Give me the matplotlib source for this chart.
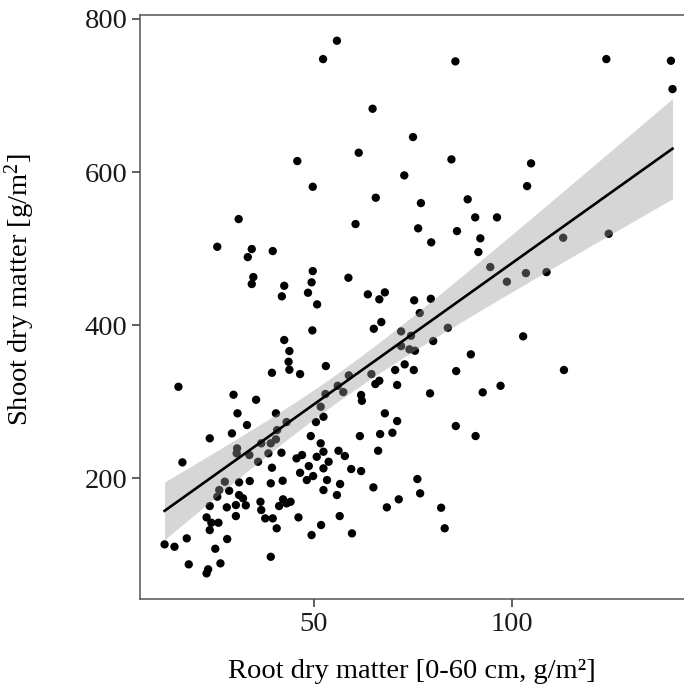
import numpy as np
import matplotlib
matplotlib.use("Agg")
import matplotlib.pyplot as plt

# root dry matter (0-60 cm, g/m2) vs shoot dry matter (g/m2)
root = [
    55.8, 52.3, 85.7, 123.8, 140.1, 140.5, 64.8, 75.0, 61.3, 45.8, 84.7, 104.8,
    72.8, 49.7, 103.8, 65.6, 77.0, 88.8,
    31.0, 25.6, 34.3, 39.6, 33.3, 49.7, 34.7, 34.3, 49.4, 42.5, 48.5, 41.9,
    50.8, 49.6, 42.5, 43.8, 43.6, 43.8, 39.4, 46.5, 15.8, 29.7, 35.4,
    60.5, 76.3, 86.1, 90.7, 96.2, 79.6, 92.0, 91.5, 94.5, 58.7, 63.6, 67.9,
    66.5, 75.3, 79.5, 76.7, 67.0, 65.1, 72.0, 83.8, 74.5, 80.1, 72.0, 74.1,
    75.5, 89.6, 72.9, 53.0, 70.5, 75.2, 85.9, 58.8, 64.5, 66.5, 65.5, 56.0,
    71.0, 97.1, 57.4, 61.9, 62.1, 79.3, 92.6, 52.9, 51.7,
    112.9, 124.4, 103.5, 108.7, 98.7, 102.8, 113.1,
    30.7, 40.4, 33.1, 43.1, 50.5, 23.7, 29.3, 40.7, 40.4, 49.2, 51.7, 16.8,
    30.6, 30.5, 33.7, 36.7, 39.1, 38.5, 35.9, 41.8, 45.6, 47.0, 50.7, 39.4,
    46.5, 48.7, 48.2, 49.8, 27.5, 26.1, 28.6, 31.1, 33.8, 39.1, 42.1, 25.6,
    23.7, 28.0, 31.1, 32.1, 30.3, 32.8, 36.5, 36.7, 37.7, 39.6, 42.2, 43.1,
    41.2, 44.1, 22.9, 24.1, 25.9, 23.7, 30.3, 40.6, 46.1, 49.4, 12.3, 14.8,
    17.9, 28.1, 25.1, 39.1, 18.4, 26.4, 23.3, 22.9,
    67.9, 71.0, 85.8, 90.8, 61.6, 66.7, 69.8, 52.4, 52.4, 56.2, 57.8, 66.2,
    53.7, 52.4, 59.4, 61.9, 53.3, 56.6, 52.4, 55.8, 65.0, 76.1, 76.8, 71.4,
    68.4, 82.1, 83.0, 56.5, 59.6, 51.8,
]
shoot = [
    771.6, 747.6, 744.6, 747.6, 745.4, 708.4, 682.7, 645.7, 625.2, 614.3, 616.5, 611.3,
    595.6, 580.7, 581.6, 566.4, 559.4, 564.3,
    538.5, 502.3, 499.3, 496.7, 488.8, 470.5, 462.7, 453.6, 455.8, 451.3, 442.2, 437.5,
    427.0, 393.0, 380.4, 366.0, 352.0, 341.6, 337.6, 335.9, 319.3, 308.9, 302.3,
    532.0, 526.4, 522.8, 540.7, 540.7, 508.1, 513.3, 495.4, 475.8, 461.8, 440.1, 442.7,
    433.6, 432.3, 434.3, 415.7, 403.9, 395.1, 391.7, 396.4, 386.0, 379.1, 372.5, 368.2,
    366.4, 361.7, 348.6, 346.4, 341.2, 341.2, 339.8, 334.2, 335.9, 327.2, 322.9, 320.6,
    321.6, 320.6, 312.4, 308.5, 301.0, 310.7, 312.0, 309.8, 293.2,
    514.1, 519.3, 467.9, 469.2, 456.6, 385.2, 341.2,
    284.6, 284.6, 269.3, 273.2, 273.2, 251.9, 258.4, 262.7, 250.6, 254.9, 245.4, 220.5,
    238.8, 232.3, 230.1, 245.4, 245.4, 232.3, 221.3, 233.1, 225.7, 230.1, 227.8, 213.5,
    206.9, 215.7, 197.4, 202.6, 195.2, 184.3, 183.4, 194.4, 196.1, 193.1, 196.5, 175.6,
    163.4, 161.7, 177.8, 173.5, 164.7, 164.3, 169.0, 158.2, 147.3, 147.3, 172.2, 166.9,
    163.4, 169.0, 148.6, 141.6, 141.6, 132.0, 150.3, 134.3, 148.6, 125.5, 113.3, 110.2,
    121.2, 120.3, 107.6, 97.1, 87.2, 88.5, 80.7, 75.4,
    284.6, 274.5, 268.0, 254.9, 254.9, 257.5, 259.2, 280.1, 234.4, 235.7, 228.8, 235.7,
    221.3, 212.7, 211.8, 209.1, 197.4, 192.2, 184.3, 177.8, 187.8, 198.7, 180.0, 172.2,
    161.7, 161.2, 134.3, 150.3, 127.7, 138.6,
]
x_ticks = [50, 100]
y_ticks = [200, 400, 600, 800]

x = np.array(root)
y = np.array(shoot)

# linear fit with 95% confidence band (like geom_smooth(method="lm"))
n = len(x)
slope, intercept = np.polyfit(x, y, 1)
resid = y - (slope * x + intercept)
s = np.sqrt(np.sum(resid ** 2) / (n - 2))
sxx = np.sum((x - x.mean()) ** 2)
xs = np.linspace(x.min(), x.max(), 200)
fit = slope * xs + intercept
t975 = 1.9729  # qt(0.975, ~190)
half = t975 * s * np.sqrt(1.0 / n + (xs - x.mean()) ** 2 / sxx)

plt.rcParams["font.family"] = ["Liberation Serif", "DejaVu Serif"]
plt.rcParams["mathtext.fontset"] = "custom"
plt.rcParams["mathtext.rm"] = "Liberation Serif"

fig = plt.figure(figsize=(6.84, 6.89), dpi=100)
ax = fig.add_axes([0.2047, 0.1306, 0.7953, 0.8476])

ax.scatter(x, y, s=36, color="black", edgecolors="none", zorder=2)
ax.fill_between(xs, fit - half, fit + half, color="#999999", alpha=0.4, linewidth=0, zorder=3)
ax.plot(xs, fit, color="black", linewidth=1.9, zorder=4)

ax.set_xlim(6.1, 143.4)
ax.set_ylim(41.9, 805.2)
ax.set_xticks(x_ticks)
ax.set_yticks(y_ticks)

for side in ["top", "left", "bottom"]:
    ax.spines[side].set_color("#555555")
    ax.spines[side].set_linewidth(1.1)
ax.spines["right"].set_visible(False)

ax.tick_params(axis="both", length=6, width=1.1, color="#333333",
               labelsize=20.5, labelcolor="#1a1a1a", pad=3)

ax.set_xlabel("Root dry matter [0-60 cm, g/m²]", fontsize=20.5, labelpad=16)
ax.set_ylabel("Shoot dry matter [g/m$\\mathrm{^2}$]", fontsize=20.5)
ax.yaxis.set_label_coords(-0.19, 0.53)

fig.savefig("out.png", dpi=100)
plt.close(fig)
